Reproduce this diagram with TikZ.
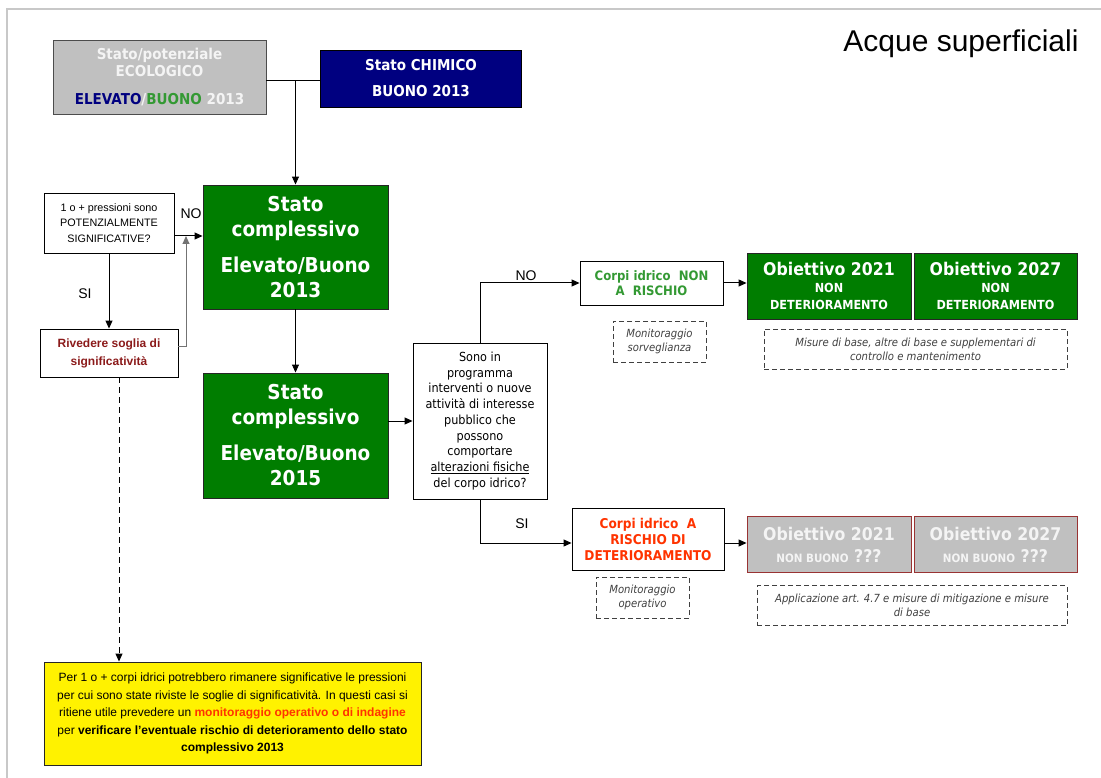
\documentclass[tikz,border=0pt]{standalone}
\usepackage{fontspec}
\setmainfont{Liberation Sans}
\newfontfamily\vf[FakeStretch=0.9]{DejaVu Sans}
\usetikzlibrary{arrows.meta}

\definecolor{framec}{HTML}{C8C8C8}
\definecolor{boxgrey}{HTML}{C0C0C0}
\definecolor{navyc}{HTML}{000080}
\definecolor{darkgreen}{HTML}{007D00}
\definecolor{lightgreen}{HTML}{339933}
\definecolor{rivred}{HTML}{8B1A1A}
\definecolor{alertred}{HTML}{FF3300}
\definecolor{boxred}{HTML}{993333}
\definecolor{softwhite}{HTML}{F4F4F4}

\tikzset{
  box/.style={draw, line width=0.9pt, inner sep=0pt, align=center},
  greenbox/.style={box, fill=darkgreen, draw=black!85, text=white},
  greybox/.style={box, fill=boxgrey, draw=black!70, text=softwhite},
  riskbox/.style={box, fill=boxgrey, draw=boxred, text=softwhite},
  notebox/.style={box, draw=black!75, dash pattern=on 5pt off 3pt, text=black!75,
    font=\vf\itshape\fontsize{11.2}{14}\selectfont},
  arr/.style={line width=1pt, -{Triangle[length=8pt,width=7pt]}},
  link/.style={line width=1pt},
  lbl/.style={font=\fontsize{14}{16}\selectfont, inner sep=0pt}
}

\begin{document}
\begin{tikzpicture}[x=1pt, y=-1pt]
\useasboundingbox (0,0) rectangle (1101,778);

% page frame
\draw[framec, line width=2pt] (7,778) -- (7,9) -- (1101,9);

% title
\node[anchor=base, inner sep=0pt, font=\fontsize{30}{36}\selectfont] (title) at (961,52) {Acque superficiali};

% starting states
\node[greybox, minimum width=213pt, minimum height=74pt,
      font=\vf\bfseries\fontsize{15}{17}\selectfont] (eco) at (159.5,77)
  {Stato/potenziale\\ECOLOGICO\\[11pt]\textcolor{navyc}{ELEVATO}/\textcolor{lightgreen}{BUONO} 2013};
\node[box, fill=navyc, draw=black, text=white, minimum width=201pt, minimum height=57pt,
      font=\vf\bfseries\fontsize{15}{26}\selectfont] (chim) at (421,78.5)
  {Stato CHIMICO\\BUONO 2013};

% overall status boxes
\node[greenbox, minimum width=185pt, minimum height=124pt,
      font=\vf\bfseries\fontsize{20.5}{25}\selectfont] (g1) at (295.5,247)
  {Stato\\complessivo\\[11pt]Elevato/Buono\\2013};
\node[greenbox, minimum width=185pt, minimum height=125pt,
      font=\vf\bfseries\fontsize{20.5}{25}\selectfont] (g2) at (295.5,435.5)
  {Stato\\complessivo\\[11pt]Elevato/Buono\\2015};

% pressures loop
\node[box, minimum width=130pt, minimum height=60pt,
      font=\fontsize{10.8}{15.5}\selectfont] (q1) at (109,223)
  {1 o + pressioni sono\\POTENZIALMENTE\\SIGNIFICATIVE?};
\node[box, minimum width=138pt, minimum height=48pt, text=rivred,
      font=\bfseries\fontsize{12}{18}\selectfont] (riv) at (109,353)
  {Rivedere soglia di\\significatività};
\node[box, fill=yellow, draw=black!85, minimum width=377pt, minimum height=103pt,
      font=\fontsize{12}{17.5}\selectfont] (yel) at (232.5,713.5)
  {Per 1 o + corpi idrici potrebbero rimanere significative le pressioni\\
   per cui sono state riviste le soglie di significatività. In questi casi si\\
   ritiene utile prevedere un \textcolor{alertred}{\bfseries monitoraggio operativo o di indagine}\\
   per \textbf{verificare l’eventuale rischio di deterioramento dello stato}\\
   \textbf{complessivo 2013}};

% physical alteration question
\node[box, minimum width=134pt, minimum height=156pt,
      font=\vf\fontsize{12.5}{15.75}\selectfont] (q2) at (480,421)
  {Sono in\\programma\\interventi o nuove\\attività di interesse\\pubblico che\\possono\\comportare\\\underline{alterazioni fisiche}\\del corpo idrico?};

% not at risk branch
\node[box, minimum width=143pt, minimum height=44pt, text=lightgreen,
      font=\vf\bfseries\fontsize{13}{15.5}\selectfont] (nonrisk) at (651.5,283)
  {Corpi idrico\ \ NON\\A\ \ RISCHIO};
\node[notebox, minimum width=93pt, minimum height=41pt] (monS) at (659.5,341.5)
  {Monitoraggio\\sorveglianza};
\node[greenbox, minimum width=164pt, minimum height=66pt,
      font=\vf\bfseries\fontsize{12.5}{17}\selectfont] (ob21g) at (829,286)
  {{\fontsize{17.5}{20}\selectfont Obiettivo 2021}\\NON\\DETERIORAMENTO};
\node[greenbox, minimum width=163pt, minimum height=66pt,
      font=\vf\bfseries\fontsize{12.5}{17}\selectfont] (ob27g) at (995.5,286)
  {{\fontsize{17.5}{20}\selectfont Obiettivo 2027}\\NON\\DETERIORAMENTO};
\node[notebox, minimum width=303pt, minimum height=40pt] (mis) at (915.5,349)
  {Misure di base, altre di base e supplementari di\\controllo e mantenimento};

% at risk branch
\node[box, minimum width=152pt, minimum height=62pt, text=alertred,
      font=\vf\bfseries\fontsize{13.5}{16}\selectfont] (risk) at (648,539)
  {Corpi idrico\ \ A\\RISCHIO DI\\DETERIORAMENTO};
\node[notebox, minimum width=93pt, minimum height=41pt] (monO) at (642.5,597.5)
  {Monitoraggio\\operativo};
\node[riskbox, minimum width=164pt, minimum height=56pt,
      font=\vf\bfseries\fontsize{17.5}{22}\selectfont] (ob21r) at (829,544.5)
  {Obiettivo 2021\\{\fontsize{11.5}{13}\selectfont NON BUONO} ???};
\node[riskbox, minimum width=163pt, minimum height=56pt,
      font=\vf\bfseries\fontsize{17.5}{22}\selectfont] (ob27r) at (995.5,544.5)
  {Obiettivo 2027\\{\fontsize{11.5}{13}\selectfont NON BUONO} ???};
\node[notebox, minimum width=310pt, minimum height=40pt] (appl) at (912,605.5)
  {Applicazione art. 4.7 e misure di mitigazione e misure\\di base};

% junction points
\coordinate (jtop) at (295.5,81);
\coordinate (jno) at (186,236);
\coordinate (dx) at (119,0);
\coordinate (jsi) at (480,543);

% connectors
\draw[link] (eco.east |- jtop) -- (chim.west |- jtop);
\draw[arr] (jtop) -- (g1.north);
\draw[arr] (g1.south) -- (g2.north);
\draw[arr] (q1.east |- jno) -- (g1.west |- jno);
\draw[arr] (q1.south) -- (riv.north);
\draw[arr, draw=black!55] (riv.east |- 0,346) -| (jno);
\draw[arr, dashed, dash pattern=on 6pt off 4pt] (riv.south -| dx) -- (yel.north -| dx);
\draw[arr] (g2.east |- q2.west) -- (q2.west);
\draw[arr] (q2.north) |- (nonrisk.west);
\draw[arr] (q2.south) |- (risk.west |- jsi);
\draw[arr] (nonrisk.east) -- (ob21g.west |- nonrisk.east);
\draw[arr] (risk.east |- jsi) -- (ob21r.west |- jsi);

% branch labels
\node[lbl] (noA) at (191,214) {NO};
\node[lbl] (siA) at (85,294) {SI};
\node[lbl] (noB) at (526,276) {NO};
\node[lbl] (siB) at (522,524) {SI};
\end{tikzpicture}
\end{document}
